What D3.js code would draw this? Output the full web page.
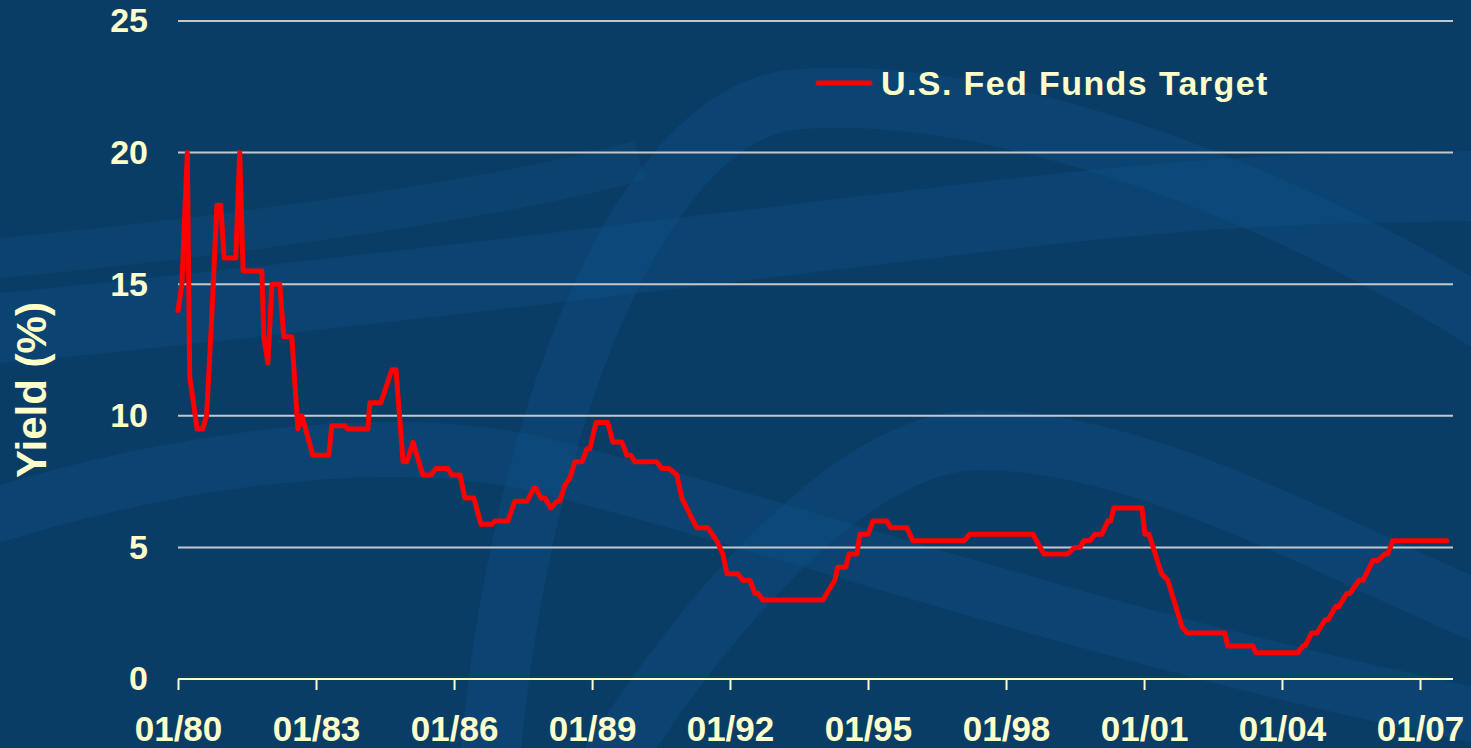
<!DOCTYPE html>
<html>
<head>
<meta charset="utf-8">
<script src="https://cdn.jsdelivr.net/npm/d3@7"></script>
<style>
  html, body { margin: 0; padding: 0; background: #0a3d66; }
  svg { display: block; }
  text { font-family: "Liberation Sans", Arial, sans-serif; font-weight: bold; }
</style>
</head>
<body>
<svg id="chart" width="1471" height="748"></svg>
<script>
// ---- data ----
const seriesName = "U.S. Fed Funds Target";
const yAxisTitle = "Yield (%)";
const dates = [
  "1980-01-01","1980-02-01","1980-03-15","1980-04-03","1980-06-01","1980-07-15","1980-08-15","1980-09-25","1980-11-05","1980-12-06",
  "1981-01-01","1981-04-04","1981-05-05","1981-06-01","1981-10-28","1981-11-12","1981-12-15",
  "1982-01-16","1982-03-19","1982-04-20","1982-06-23","1982-08-10","1982-09-11","1982-12-07",
  "1983-04-12","1983-05-06","1983-08-17","1983-09-11",
  "1984-02-17","1984-03-03","1984-05-30","1984-08-25","1984-09-27","1984-11-22","1984-12-23",
  "1985-02-09","1985-04-28","1985-07-01","1985-08-10","1985-11-13","1985-12-15",
  "1986-02-17","1986-03-28","1986-06-08","1986-08-03","1986-10-28","1986-11-20",
  "1987-03-03","1987-04-28","1987-08-03","1987-09-27","1987-10-12","1987-11-22","1987-12-23",
  "1988-02-09","1988-03-27","1988-04-20","1988-05-30","1988-07-08","1988-08-17","1988-10-12","1988-11-22","1988-12-15",
  "1989-02-01","1989-05-05","1989-06-15","1989-08-25","1989-10-05","1989-11-05","1989-12-08",
  "1990-05-30","1990-07-08","1990-09-03","1990-11-05","1990-12-15",
  "1991-02-17","1991-04-12","1991-07-08","1991-09-18","1991-11-05","1991-12-08",
  "1992-03-03","1992-04-12","1992-06-08","1992-07-17","1992-08-10","1992-09-18",
  "1994-01-08","1994-04-12","1994-05-05","1994-07-08","1994-08-03","1994-10-05","1994-10-28",
  "1995-01-01","1995-02-09","1995-05-30","1995-07-01","1995-11-05","1995-12-23",
  "1997-02-01","1997-03-19","1998-08-03","1998-10-28",
  "1999-05-05","1999-07-01","1999-08-10","1999-09-11","1999-10-28","1999-12-08",
  "2000-02-01","2000-03-19","2000-04-12","2000-05-05","2000-12-15",
  "2001-01-08","2001-02-09","2001-05-20","2001-07-08","2001-10-28","2001-12-08",
  "2002-10-05","2002-10-28","2003-05-15","2003-06-08",
  "2004-05-05","2004-06-15","2004-07-01","2004-08-25","2004-10-05","2004-12-08",
  "2005-01-01","2005-03-03","2005-03-27","2005-05-30","2005-06-23","2005-09-03","2005-10-05","2005-12-23",
  "2006-02-01","2006-03-27","2006-04-20","2006-05-30","2007-08-03"
];
const rates = [
  14.0,15.0,20.0,11.5,9.5,9.5,10.0,13.75,18.0,18.0,
  16.0,16.0,20.0,15.5,15.5,13.0,12.0,
  15.0,15.0,13.0,13.0,9.5,10.0,8.5,
  8.5,9.625,9.625,9.5,
  9.5,10.5,10.5,11.75,11.75,8.25,8.25,
  9.0,7.75,7.75,8.0,8.0,7.75,
  7.75,6.875,6.875,5.875,5.875,6.0,
  6.0,6.75,6.75,7.25,7.25,6.875,6.875,
  6.5,6.75,6.75,7.375,7.625,8.25,8.25,8.75,8.75,
  9.75,9.75,9.0,9.0,8.5,8.5,8.25,
  8.25,8.0,8.0,7.75,6.875,
  6.25,5.75,5.75,5.25,4.75,4.0,
  4.0,3.75,3.75,3.25,3.25,3.0,
  3.0,3.75,4.25,4.25,4.75,4.75,5.5,
  5.5,6.0,6.0,5.75,5.75,5.25,
  5.25,5.5,5.5,4.75,
  4.75,5.0,5.0,5.25,5.25,5.5,
  5.5,6.0,6.0,6.5,6.5,
  5.5,5.5,4.0,3.75,2.0,1.75,
  1.75,1.25,1.25,1.0,
  1.0,1.25,1.25,1.75,1.75,2.25,
  2.25,2.75,2.75,3.25,3.25,3.75,3.75,4.5,
  4.5,4.75,4.75,5.25,5.25
];
const xTickDates = ["1980-01-01","1983-01-01","1986-01-01","1989-01-01","1992-01-01","1995-01-01","1998-01-01","2001-01-01","2004-01-01","2007-01-01"];
const yTicks = [0, 5, 10, 15, 20, 25];

// ---- setup ----
const W = 1471, H = 748;
const svg = d3.select("#chart");
const parse = d3.timeParse("%Y-%m-%d");
const points = dates.map((d, i) => ({ date: parse(d), value: rates[i] }));

const x = d3.scaleTime()
  .domain([parse("1980-01-01"), parse("2007-09-20")])
  .range([178, 1453]);
const y = d3.scaleLinear().domain([0, 25]).range([679, 21]);

// ---- background ----
svg.append("rect").attr("width", W).attr("height", H).attr("fill", "#0a3d66");
const deco = svg.append("g").attr("fill", "none").attr("stroke", "#0f4f82").attr("stroke-opacity", 0.42);
deco.append("path").attr("stroke-width", 70)
  .attr("d", "M -20 330 C 300 300, 700 250, 1000 215 S 1400 190, 1500 185");
deco.append("path").attr("stroke-width", 60)
  .attr("d", "M 490 760 C 520 420, 640 120, 790 100 C 1000 80, 1300 200, 1500 330");
deco.append("path").attr("stroke-width", 55)
  .attr("d", "M -20 520 C 200 450, 420 430, 560 470 C 800 530, 1100 640, 1500 720");
deco.append("path").attr("stroke-width", 60)
  .attr("d", "M 600 780 C 700 620, 850 440, 980 440 C 1150 440, 1350 560, 1500 620");
deco.append("path").attr("stroke-width", 40).attr("stroke-opacity", 0.3)
  .attr("d", "M -20 260 C 200 240, 500 200, 640 160");

// ---- gridlines ----
svg.append("g")
  .selectAll("line")
  .data(yTicks.filter(t => t > 0))
  .join("line")
  .attr("x1", 178).attr("x2", 1453)
  .attr("y1", d => y(d)).attr("y2", d => y(d))
  .attr("stroke", "#c4c8cc").attr("stroke-width", 2);

// ---- y axis labels ----
const yAxis = d3.axisLeft(y).tickValues(yTicks).tickSize(0).tickPadding(30);
const gy = svg.append("g").attr("transform", "translate(178,0)").call(yAxis);
gy.select(".domain").remove();
gy.selectAll("text")
  .attr("fill", "#ffffcc").attr("font-size", 34)
  .attr("font-family", "Liberation Sans, Arial, sans-serif").attr("font-weight", "bold");

// ---- x axis ----
const xAxis = d3.axisBottom(x)
  .tickValues(xTickDates.map(parse))
  .tickFormat(d3.timeFormat("%m/%y"))
  .tickSizeInner(11).tickSizeOuter(0).tickPadding(26);
const gx = svg.append("g").attr("transform", "translate(0,679)").call(xAxis);
gx.select(".domain").attr("stroke", "#ffffcc").attr("stroke-width", 2)
  .attr("d", "M178,0H1453");
gx.selectAll(".tick line").attr("stroke", "#ffffcc").attr("stroke-width", 2);
gx.selectAll("text")
  .attr("fill", "#ffffcc").attr("font-size", 35)
  .attr("font-family", "Liberation Sans, Arial, sans-serif").attr("font-weight", "bold");

// ---- y title ----
svg.append("text")
  .attr("transform", "translate(46,390) rotate(-90)")
  .attr("text-anchor", "middle")
  .attr("fill", "#ffffcc").attr("font-size", 42)
  .text(yAxisTitle);

// ---- line ----
const line = d3.line().x(d => x(d.date)).y(d => y(d.value)).curve(d3.curveLinear);
svg.append("path")
  .datum(points)
  .attr("d", line)
  .attr("fill", "none")
  .attr("stroke", "#ff0000")
  .attr("stroke-width", 5)
  .attr("stroke-linejoin", "round")
  .attr("stroke-linecap", "round");

// ---- legend ----
const lg = svg.append("g");
lg.append("line").attr("x1", 818).attr("x2", 870).attr("y1", 83).attr("y2", 83)
  .attr("stroke", "#ff0000").attr("stroke-width", 5).attr("stroke-linecap", "round");
lg.append("text").attr("x", 881).attr("y", 95)
  .attr("fill", "#ffffcc").attr("font-size", 34).attr("letter-spacing", 1.4)
  .text(seriesName);
</script>
</body>
</html>
